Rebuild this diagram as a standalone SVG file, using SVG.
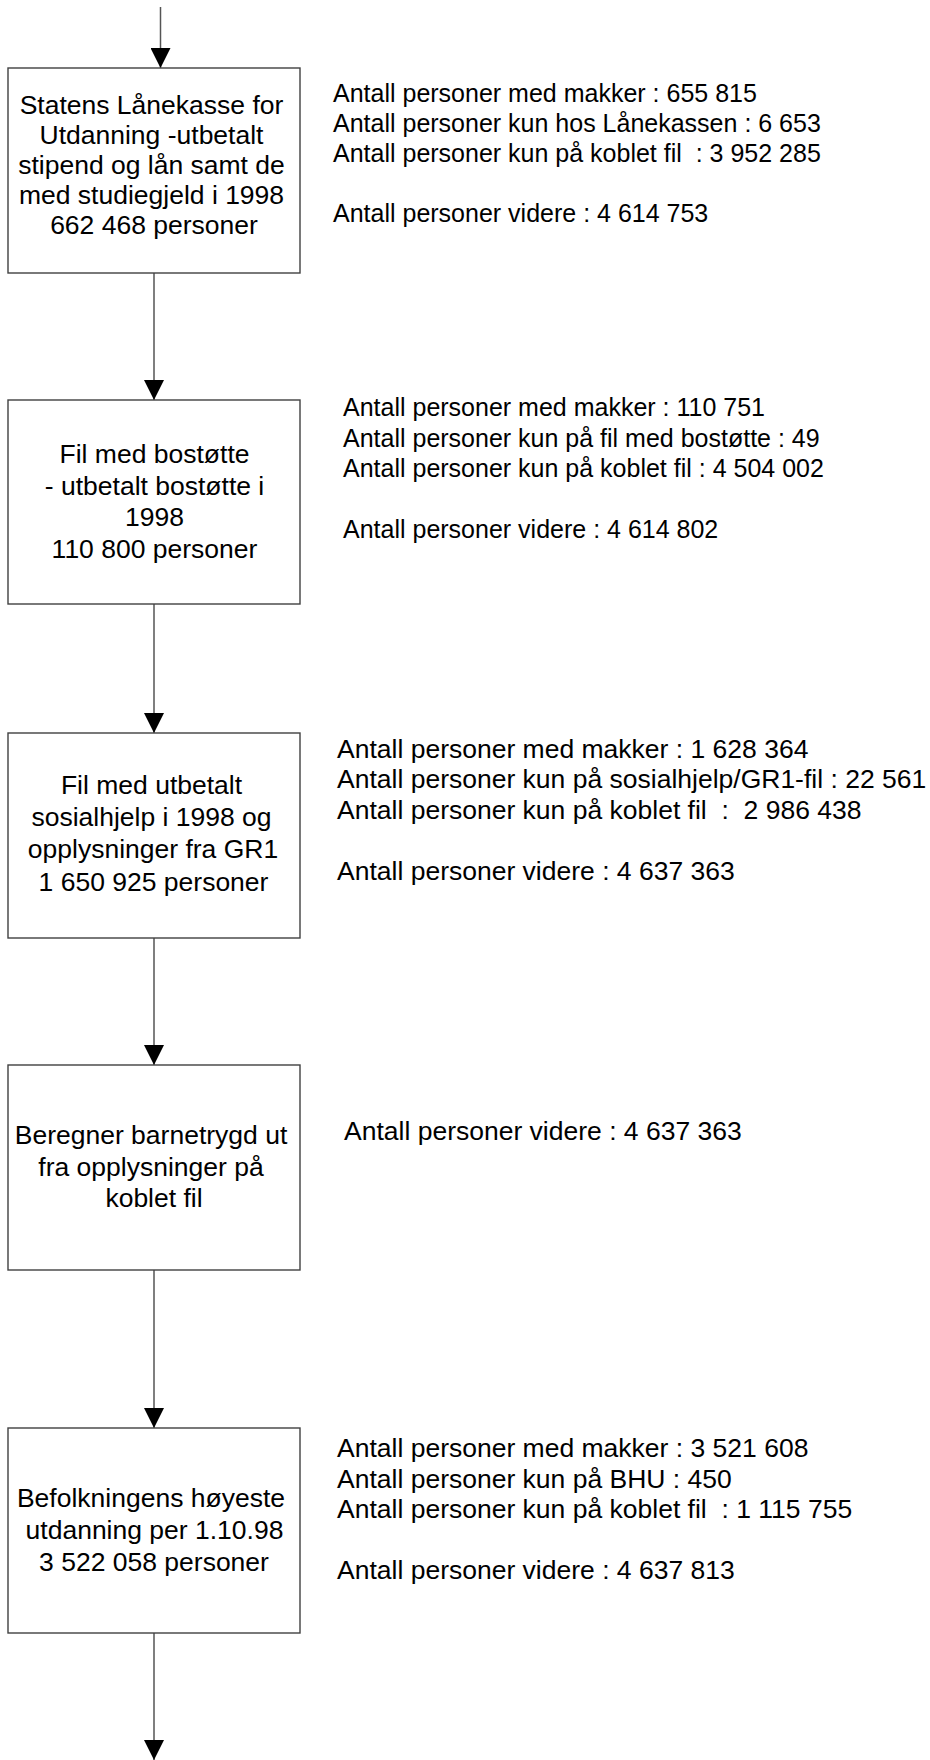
<svg xmlns="http://www.w3.org/2000/svg" width="930" height="1760" viewBox="0 0 930 1760">
<defs>
<style>
.box{fill:#ffffff;stroke:#404040;stroke-width:1.4}
.line{stroke:#555555;stroke-width:1.5;fill:none}
.t{font-family:"Liberation Sans",Arial,sans-serif;font-size:26.5px;fill:#000000}
.c{text-anchor:middle}
.r1{font-size:25px}
</style>
<marker id="ah" markerUnits="userSpaceOnUse" markerWidth="20" markerHeight="20" refX="20" refY="10" orient="auto" viewBox="0 0 20 20">
<path d="M0,0 L20,10 L0,20 z" fill="#000000"/>
</marker>
</defs>
<rect width="930" height="1760" fill="#ffffff"/>
<g id="connectors">
<line class="line" x1="160.5" y1="7" x2="160.5" y2="68" marker-end="url(#ah)"/>
<line class="line" x1="154" y1="273" x2="154" y2="400" marker-end="url(#ah)"/>
<line class="line" x1="154" y1="604" x2="154" y2="733" marker-end="url(#ah)"/>
<line class="line" x1="154" y1="938" x2="154" y2="1065" marker-end="url(#ah)"/>
<line class="line" x1="154" y1="1270" x2="154" y2="1428" marker-end="url(#ah)"/>
<line class="line" x1="154" y1="1633" x2="154" y2="1760" marker-end="url(#ah)"/>
</g>
<g id="node1">
<rect class="box" x="8" y="68" width="292" height="205"/>
<text class="t c" x="151.5" y="114">Statens Lånekasse for</text>
<text class="t c" x="151.5" y="144">Utdanning -utbetalt</text>
<text class="t c" x="151.5" y="174">stipend og lån samt de</text>
<text class="t c" x="151.5" y="204">med studiegjeld i 1998</text>
<text class="t c" x="154" y="234">662 468 personer</text>
</g>
<g id="info1">
<text class="t r1" x="333" y="101.5">Antall personer med makker : 655 815</text>
<text class="t r1" x="333" y="132">Antall personer kun hos Lånekassen : 6 653</text>
<text class="t r1" x="333" y="162" xml:space="preserve">Antall personer kun på koblet fil  : 3 952 285</text>
<text class="t r1" x="333" y="222">Antall personer videre : 4 614 753</text>
</g>
<g id="node2">
<rect class="box" x="8" y="400" width="292" height="204"/>
<text class="t c" x="154.5" y="463">Fil med bostøtte</text>
<text class="t c" x="154.5" y="494.5">- utbetalt bostøtte i</text>
<text class="t c" x="154.5" y="526">1998</text>
<text class="t c" x="154.5" y="557.5">110 800 personer</text>
</g>
<g id="info2">
<text class="t r1" x="343" y="416">Antall personer med makker : 110 751</text>
<text class="t r1" x="343" y="446.5">Antall personer kun på fil med bostøtte : 49</text>
<text class="t r1" x="343" y="477">Antall personer kun på koblet fil : 4 504 002</text>
<text class="t r1" x="343" y="538">Antall personer videre : 4 614 802</text>
</g>
<g id="node3">
<rect class="box" x="8" y="733" width="292" height="205"/>
<text class="t c" x="151.5" y="794">Fil med utbetalt</text>
<text class="t c" x="151.5" y="826">sosialhjelp i 1998 og</text>
<text class="t c" x="153" y="858">opplysninger fra GR1</text>
<text class="t c" x="153.5" y="890.5">1 650 925 personer</text>
</g>
<g id="info3">
<text class="t" x="337" y="757.5">Antall personer med makker : 1 628 364</text>
<text class="t" x="337" y="788">Antall personer kun på sosialhjelp/GR1-fil : 22 561</text>
<text class="t" x="337" y="818.5" xml:space="preserve">Antall personer kun på koblet fil  :  2 986 438</text>
<text class="t" x="337" y="879.5">Antall personer videre : 4 637 363</text>
</g>
<g id="node4">
<rect class="box" x="8" y="1065" width="292" height="205"/>
<text class="t c" x="151" y="1143.5">Beregner barnetrygd ut</text>
<text class="t c" x="151" y="1175.5">fra opplysninger på</text>
<text class="t c" x="154" y="1207">koblet fil</text>
</g>
<g id="info4">
<text class="t" x="344" y="1140">Antall personer videre : 4 637 363</text>
</g>
<g id="node5">
<rect class="box" x="8" y="1428" width="292" height="205"/>
<text class="t c" x="151" y="1506.5">Befolkningens høyeste</text>
<text class="t c" x="154.5" y="1538.5">utdanning per 1.10.98</text>
<text class="t c" x="154" y="1570.5">3 522 058 personer</text>
</g>
<g id="info5">
<text class="t" x="337" y="1457">Antall personer med makker : 3 521 608</text>
<text class="t" x="337" y="1487.5">Antall personer kun på BHU : 450</text>
<text class="t" x="337" y="1518" xml:space="preserve">Antall personer kun på koblet fil  : 1 115 755</text>
<text class="t" x="337" y="1579">Antall personer videre : 4 637 813</text>
</g>
</svg>
